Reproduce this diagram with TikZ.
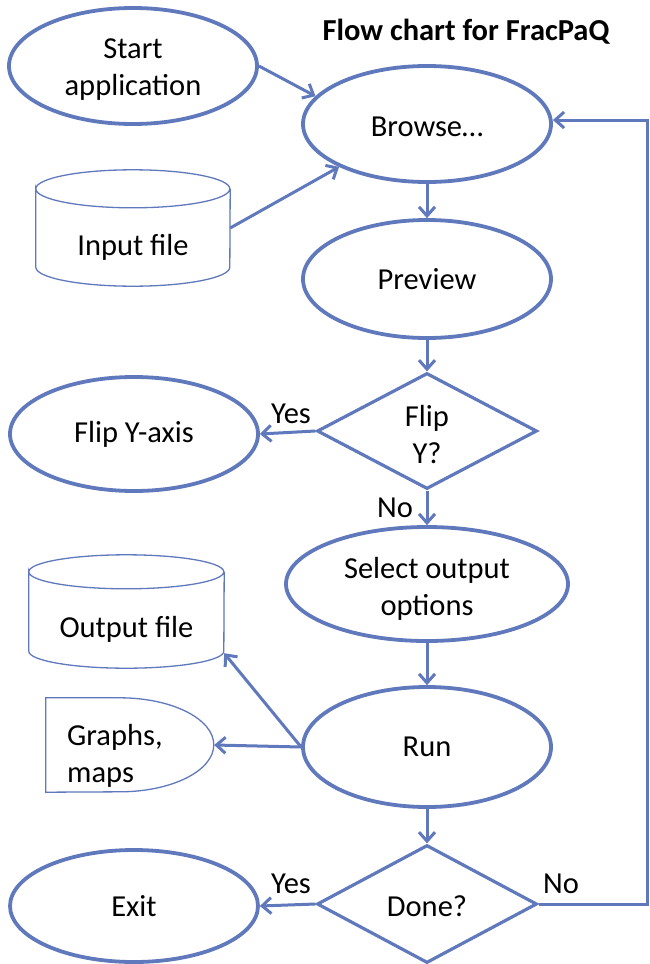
\documentclass[tikz,border=0pt]{standalone}
\usepackage{fontspec}
\setmainfont{Carlito}
\usetikzlibrary{shapes.geometric,arrows.meta,calc}
\definecolor{fcblue}{RGB}{96,120,188}
\tikzset{
  txt/.style={font=\fontsize{30.5}{37}\selectfont, align=center, inner sep=0pt},
  oval/.style={ellipse, draw=fcblue, line width=3.8pt, minimum width=248pt, minimum height=116pt, inner sep=0pt, txt},
  decision/.style={diamond, draw=fcblue, line width=3.2pt, minimum width=220pt, minimum height=116pt, inner sep=0pt},
  store/.style={draw=none, inner sep=0pt},
  thinline/.style={draw=fcblue, line width=1.3pt},
  flow/.style={draw=fcblue, line width=3pt, -{Straight Barb[length=9pt,width=16pt]}},
  lbl/.style={font=\fontsize{30.5}{37}\selectfont, inner sep=0pt, anchor=base},
}
\begin{document}
\begin{tikzpicture}[x=1pt,y=1pt]
\useasboundingbox (0,0) rectangle (649,-964);
% title
\node[anchor=base, inner sep=0pt, font=\fontsize{30.5}{36}\selectfont\bfseries] (title) at (466,-40) {Flow chart for FracPaQ};
% ovals
\node[oval] (start) at (133,-66) {};
\node[txt] (starttxt) at (133,-70) {Start\\application};
\node[oval] (browse) at (427,-124) {};
\node[txt] (browsetxt) at (427,-127) {Browse\ldots};
\node[oval, minimum height=118pt] (preview) at (427,-279) {Preview};
\node[oval, minimum height=114pt] (flipax) at (134,-434) {Flip Y-axis};
\node[oval, minimum width=282pt, minimum height=114pt] (select) at (427,-584) {};
\node[txt] (selecttxt) at (427,-589) {Select output\\options};
\node[oval, minimum height=120pt] (run) at (427,-747) {Run};
\node[oval, minimum height=112pt] (exit) at (134,-906) {Exit};
% decisions
\node[decision] (flip) at (427,-431) {};
\node[txt] (fliptxt) at (427,-435) {Flip\\Y?};
\node[decision, minimum height=118pt] (done) at (427,-904) {};
\node[txt] (donetxt) at (427,-906) {Done?};
% input file cylinder
\node[store, minimum width=194pt, minimum height=116pt] (input) at (133,-228) {};
\draw[thinline] ($(input.north west)+(0,-19)$) arc[start angle=180, end angle=0, x radius=97pt, y radius=19pt]
  arc[start angle=0, end angle=-180, x radius=97pt, y radius=19pt]
  -- ($(input.south west)+(0,19)$) arc[start angle=180, end angle=360, x radius=97pt, y radius=19pt]
  -- ($(input.north east)+(0,-19)$);
\node[txt] (inputtxt) at (133,-247) {Input file};
% output file cylinder
\node[store, minimum width=195pt, minimum height=113pt] (outfile) at (126.5,-611.5) {};
\draw[thinline] ($(outfile.north west)+(0,-17)$) arc[start angle=180, end angle=0, x radius=97.5pt, y radius=17pt]
  arc[start angle=0, end angle=-180, x radius=97.5pt, y radius=17pt]
  -- ($(outfile.south west)+(0,17)$) arc[start angle=180, end angle=360, x radius=97.5pt, y radius=17pt]
  -- ($(outfile.north east)+(0,-17)$);
\node[txt] (outfiletxt) at (126.5,-629) {Output file};
% graphs, maps (delay shape)
\node[store, minimum width=168pt, minimum height=94pt] (graphs) at (130,-745) {};
\draw[thinline] (graphs.north west) -- ++(74,0) arc[start angle=90, end angle=-90, x radius=94pt, y radius=47pt] -- (graphs.south west) -- cycle;
\node[txt, align=left, anchor=west] (graphstxt) at (67,-756) {Graphs,\\maps};
% connectors
\draw[flow] (start.east) -- (browse.166);
\draw[flow] (input.east) -- (browse.206);
\draw[flow] (browse.south) -- (preview.north);
\draw[flow] (preview.south) -- (flip.north);
\draw[flow] (flip.west) -- (flipax.east);
\draw[flow] (flip.south) -- (select.north);
\draw[flow] (select.south) -- (run.north);
\draw[flow] (run.west) -- (graphs.east);
\draw[flow] (run.west) -- ($(outfile.south east)+(0,15)$);
\draw[flow] (run.south) -- (done.north);
\draw[flow] (done.west) -- (exit.east);
\coordinate (loopdown) at (647,-904);
\coordinate (loopup) at (647,-120);
\draw[flow] (done.east) -- (loopdown) -- (loopup) -- (browse.east |- loopup);
% labels
\node[lbl] (yes1) at (291,-423) {Yes};
\node[lbl] (no1) at (395,-517) {No};
\node[lbl] (yes2) at (291,-893) {Yes};
\node[lbl] (no2) at (561,-893) {No};
\end{tikzpicture}
\end{document}
